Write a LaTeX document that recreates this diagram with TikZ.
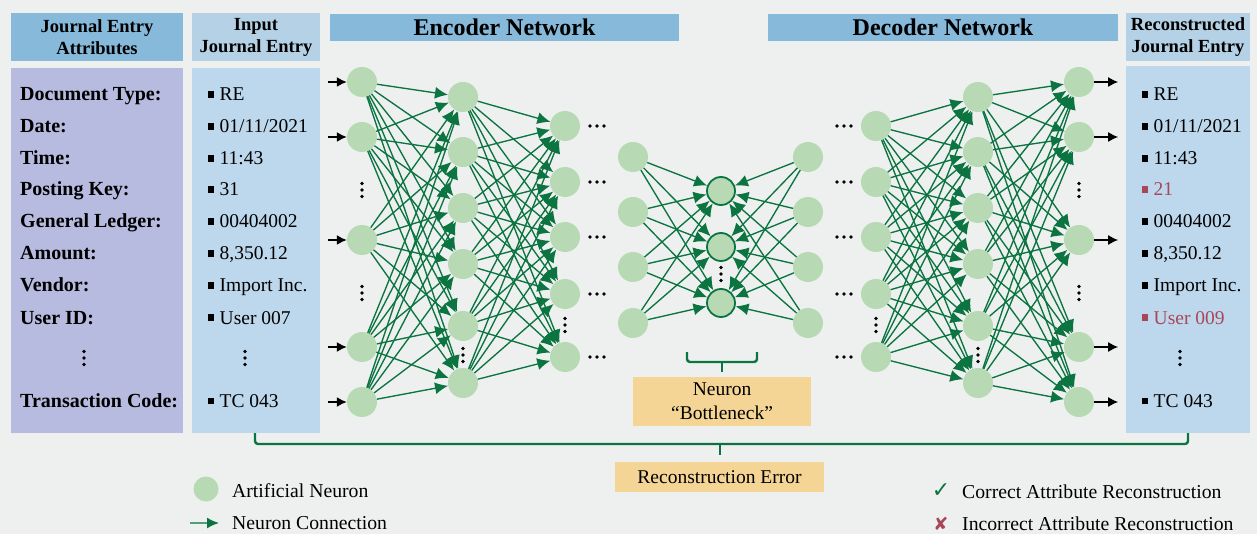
\documentclass[tikz,border=0pt]{standalone}
\usepackage{fontspec}
\setmainfont{Liberation Serif}
\newfontfamily\symfont{DejaVu Sans}
\usetikzlibrary{arrows.meta,calc}

\definecolor{canvas}{HTML}{EEF0EF}
\definecolor{hdrblue}{HTML}{86B9DA}
\definecolor{hdrlight}{HTML}{B4D1E6}
\definecolor{bodyblue}{HTML}{BDD8EC}
\definecolor{lavender}{HTML}{B8BBE0}
\definecolor{neuronfill}{HTML}{B7DAB4}
\definecolor{linkgreen}{HTML}{0B7440}
\definecolor{notefill}{HTML}{F5D595}
\definecolor{wrong}{HTML}{A8475A}

% square bullet in front of every attribute value
\newcommand{\itemsq}{\rule[3pt]{5.5pt}{6.5pt}\hspace{6pt}}

\begin{document}
\begin{tikzpicture}[x=1pt,y=-1pt,
  panel/.style={inner sep=0,outer sep=0,align=center},
  neuron/.style={circle,fill=neuronfill,minimum size=30,inner sep=0},
  core/.style={circle,fill=neuronfill,draw=linkgreen,line width=1.8pt,minimum size=28,inner sep=0},
  link/.style={draw=linkgreen,line width=1.35pt,-{Latex[length=13pt,width=12pt]}},
  feed/.style={draw=black,line width=1.5pt,-{Latex[length=10pt,width=10pt]}},
  bracket/.style={draw=linkgreen,line width=2.4pt,rounded corners=3pt},
  attr/.style={anchor=base west,inner sep=0,font=\fontsize{20}{24}\selectfont\bfseries},
  val/.style={anchor=base west,inner sep=0,font=\fontsize{19.5}{24}\selectfont},
  hdr/.style={font=\fontsize{18.5}{22}\selectfont\bfseries},
  title/.style={font=\fontsize{24}{28}\selectfont\bfseries},
  note/.style={panel,fill=notefill,font=\fontsize{19.5}{24}\selectfont},
  legend/.style={anchor=base west,inner sep=0,font=\fontsize{19.7}{24}\selectfont}
]
\fill[canvas] (0,0) rectangle (1257,534);
\useasboundingbox (0,0) rectangle (1257,534);

% ---------- column headers ----------
\node[panel,hdr,fill=hdrblue,minimum width=172,minimum height=48] (hAttr) at (97,37) {Journal Entry\\Attributes};
\node[panel,hdr,fill=hdrlight,minimum width=128,minimum height=48] (hIn) at (256,37) {Input\\Journal Entry};
\node[panel,title,fill=hdrblue,minimum width=349,minimum height=27] (hEnc) at (504.5,27.5) {Encoder Network};
\node[panel,title,fill=hdrblue,minimum width=350,minimum height=27] (hDec) at (943,27.5) {Decoder Network};
\node[panel,hdr,fill=hdrlight,minimum width=124,minimum height=48] (hOut) at (1188,37) {Reconstructed\\Journal Entry};

% ---------- column bodies ----------
\node[panel,fill=lavender,minimum width=172,minimum height=365] (bAttr) at (97,250.5) {};
\node[panel,fill=bodyblue,minimum width=128,minimum height=365] (bIn) at (256,250.5) {};
\node[panel,fill=bodyblue,minimum width=124,minimum height=367] (bOut) at (1188,249.5) {};

% attribute names
\node[attr] (at1) at (20,101) {Document Type:};
\node[attr] (at2) at (20,133) {Date:};
\node[attr] (at3) at (20,165) {Time:};
\node[attr] (at4) at (20,196) {Posting Key:};
\node[attr] (at5) at (20,228) {General Ledger:};
\node[attr] (at6) at (20,260) {Amount:};
\node[attr] (at7) at (20,292) {Vendor:};
\node[attr] (at8) at (20,324) {User ID:};
\node[attr] (at9) at (20,407) {Transaction Code:};

% input values
\node[val] (iv1) at (208,101) {\itemsq RE};
\node[val] (iv2) at (208,133) {\itemsq 01/11/2021};
\node[val] (iv3) at (208,165) {\itemsq 11:43};
\node[val] (iv4) at (208,196) {\itemsq 31};
\node[val] (iv5) at (208,228) {\itemsq 00404002};
\node[val] (iv6) at (208,260) {\itemsq 8,350.12};
\node[val] (iv7) at (208,292) {\itemsq Import Inc.};
\node[val] (iv8) at (208,324) {\itemsq User 007};
\node[val] (iv9) at (208,407) {\itemsq TC 043};

% reconstructed values
\node[val] (rv1) at (1142,101) {\itemsq RE};
\node[val] (rv2) at (1142,133) {\itemsq 01/11/2021};
\node[val] (rv3) at (1142,165) {\itemsq 11:43};
\node[val,text=wrong] (rv4) at (1142,196) {\itemsq 21};
\node[val] (rv5) at (1142,228) {\itemsq 00404002};
\node[val] (rv6) at (1142,260) {\itemsq 8,350.12};
\node[val] (rv7) at (1142,292) {\itemsq Import Inc.};
\node[val,text=wrong] (rv8) at (1142,324) {\itemsq User 009};
\node[val] (rv9) at (1142,407) {\itemsq TC 043};

% ---------- neurons ----------
\foreach \y [count=\i] in {82,137,240,347,402} {
  \node[neuron] (a\i) at (362,\y) {};
  \node[neuron] (f\i) at (1079,\y) {};
}
\foreach \y [count=\i] in {97,152,208,264,326,383} {
  \node[neuron] (b\i) at (463,\y) {};
  \node[neuron] (e\i) at (978,\y) {};
}
\foreach \y [count=\i] in {126,182,237,294,357} {
  \node[neuron] (c\i) at (565,\y) {};
  \node[neuron] (d\i) at (876,\y) {};
}
\foreach \y [count=\i] in {157,212,267,323} {
  \node[neuron] (m\i) at (633,\y) {};
  \node[neuron] (n\i) at (808,\y) {};
}
\foreach \y [count=\i] in {191,247,303} {
  \node[core] (z\i) at (721,\y) {};
}

% ---------- connections ----------
\foreach \i in {1,...,5} {\foreach \j in {1,...,6} {\draw[link] (a\i) -- (b\j);}}
\foreach \i in {1,...,6} {\foreach \j in {1,...,5} {\draw[link] (b\i) -- (c\j);}}
\foreach \i in {1,...,4} {\foreach \j in {1,...,3} {
  \draw[link] (m\i) -- (z\j);
  \draw[link] (n\i) -- (z\j);
}}
\foreach \i in {1,...,5} {\foreach \j in {1,...,6} {\draw[link] (d\i) -- (e\j);}}
\foreach \i in {1,...,6} {\foreach \j in {1,...,5} {\draw[link] (e\i) -- (f\j);}}

% input and output arrows
\foreach \i in {1,...,5} {
  \coordinate (src\i) at ($(a\i.west)+(-19,0)$);
  \coordinate (dst\i) at ($(f\i.east)+(24,0)$);
  \draw[feed] (src\i) -- (a\i.west);
  \draw[feed] (f\i.east) -- (dst\i);
}

% ---------- ellipses ----------
\foreach \x/\y in {362/190, 362/293, 463/355, 565/325, 721/274, 876/325, 978/355, 1079/190, 1079/293, 84/358, 245/358, 1180/358} {
  \foreach \k in {-6.5,0,6.5} {\fill (\x,{\y+\k}) circle (1.9pt);}
}
\foreach \y in {126,182,237,294,357} {
  \foreach \k in {-7,0,7} {
    \fill ({597+\k},\y) circle (1.9pt);
    \fill ({844+\k},\y) circle (1.9pt);
  }
}

% ---------- bottleneck label ----------
\draw[bracket] (687,352) -- (687,362) -- (757,362) -- (757,352);
\draw[bracket] (722,362) -- (722,372);
\node[note,minimum width=178,minimum height=49] (bneck) at (722,401.5) {Neuron\\“Bottleneck”};

% ---------- reconstruction error ----------
\draw[bracket] (bIn.south -| 255,0) -- (255,444) -- (1188,444) -- (bOut.south);
\draw[bracket] (720,444) -- (720,455);
\node[note,minimum width=209,minimum height=30] (rerr) at (719.5,477) {Reconstruction Error};

% ---------- legend ----------
\node[circle,fill=neuronfill,minimum size=25,inner sep=0] (lgN) at (206,489) {};
\node[legend] (lgNt) at (232,497) {Artificial Neuron};
\coordinate (lgA0) at (190,523);
\coordinate (lgA1) at (219,523);
\draw[draw=linkgreen!70,line width=1.6pt,-{Latex[length=12pt,width=11pt,color=linkgreen]}] (lgA0) -- (lgA1);
\node[legend] (lgAt) at (232,529) {Neuron Connection};
\node[inner sep=0,text=linkgreen,font=\symfont\fontsize{22}{24}\selectfont] (lgC) at (941,491) {✓};
\node[legend] (lgCt) at (962,498) {Correct Attribute Reconstruction};
\node[inner sep=0,text=wrong,font=\symfont\fontsize{18}{20}\selectfont] (lgX) at (941,524) {✘};
\node[legend] (lgXt) at (962,530) {Incorrect Attribute Reconstruction};
\end{tikzpicture}
\end{document}
